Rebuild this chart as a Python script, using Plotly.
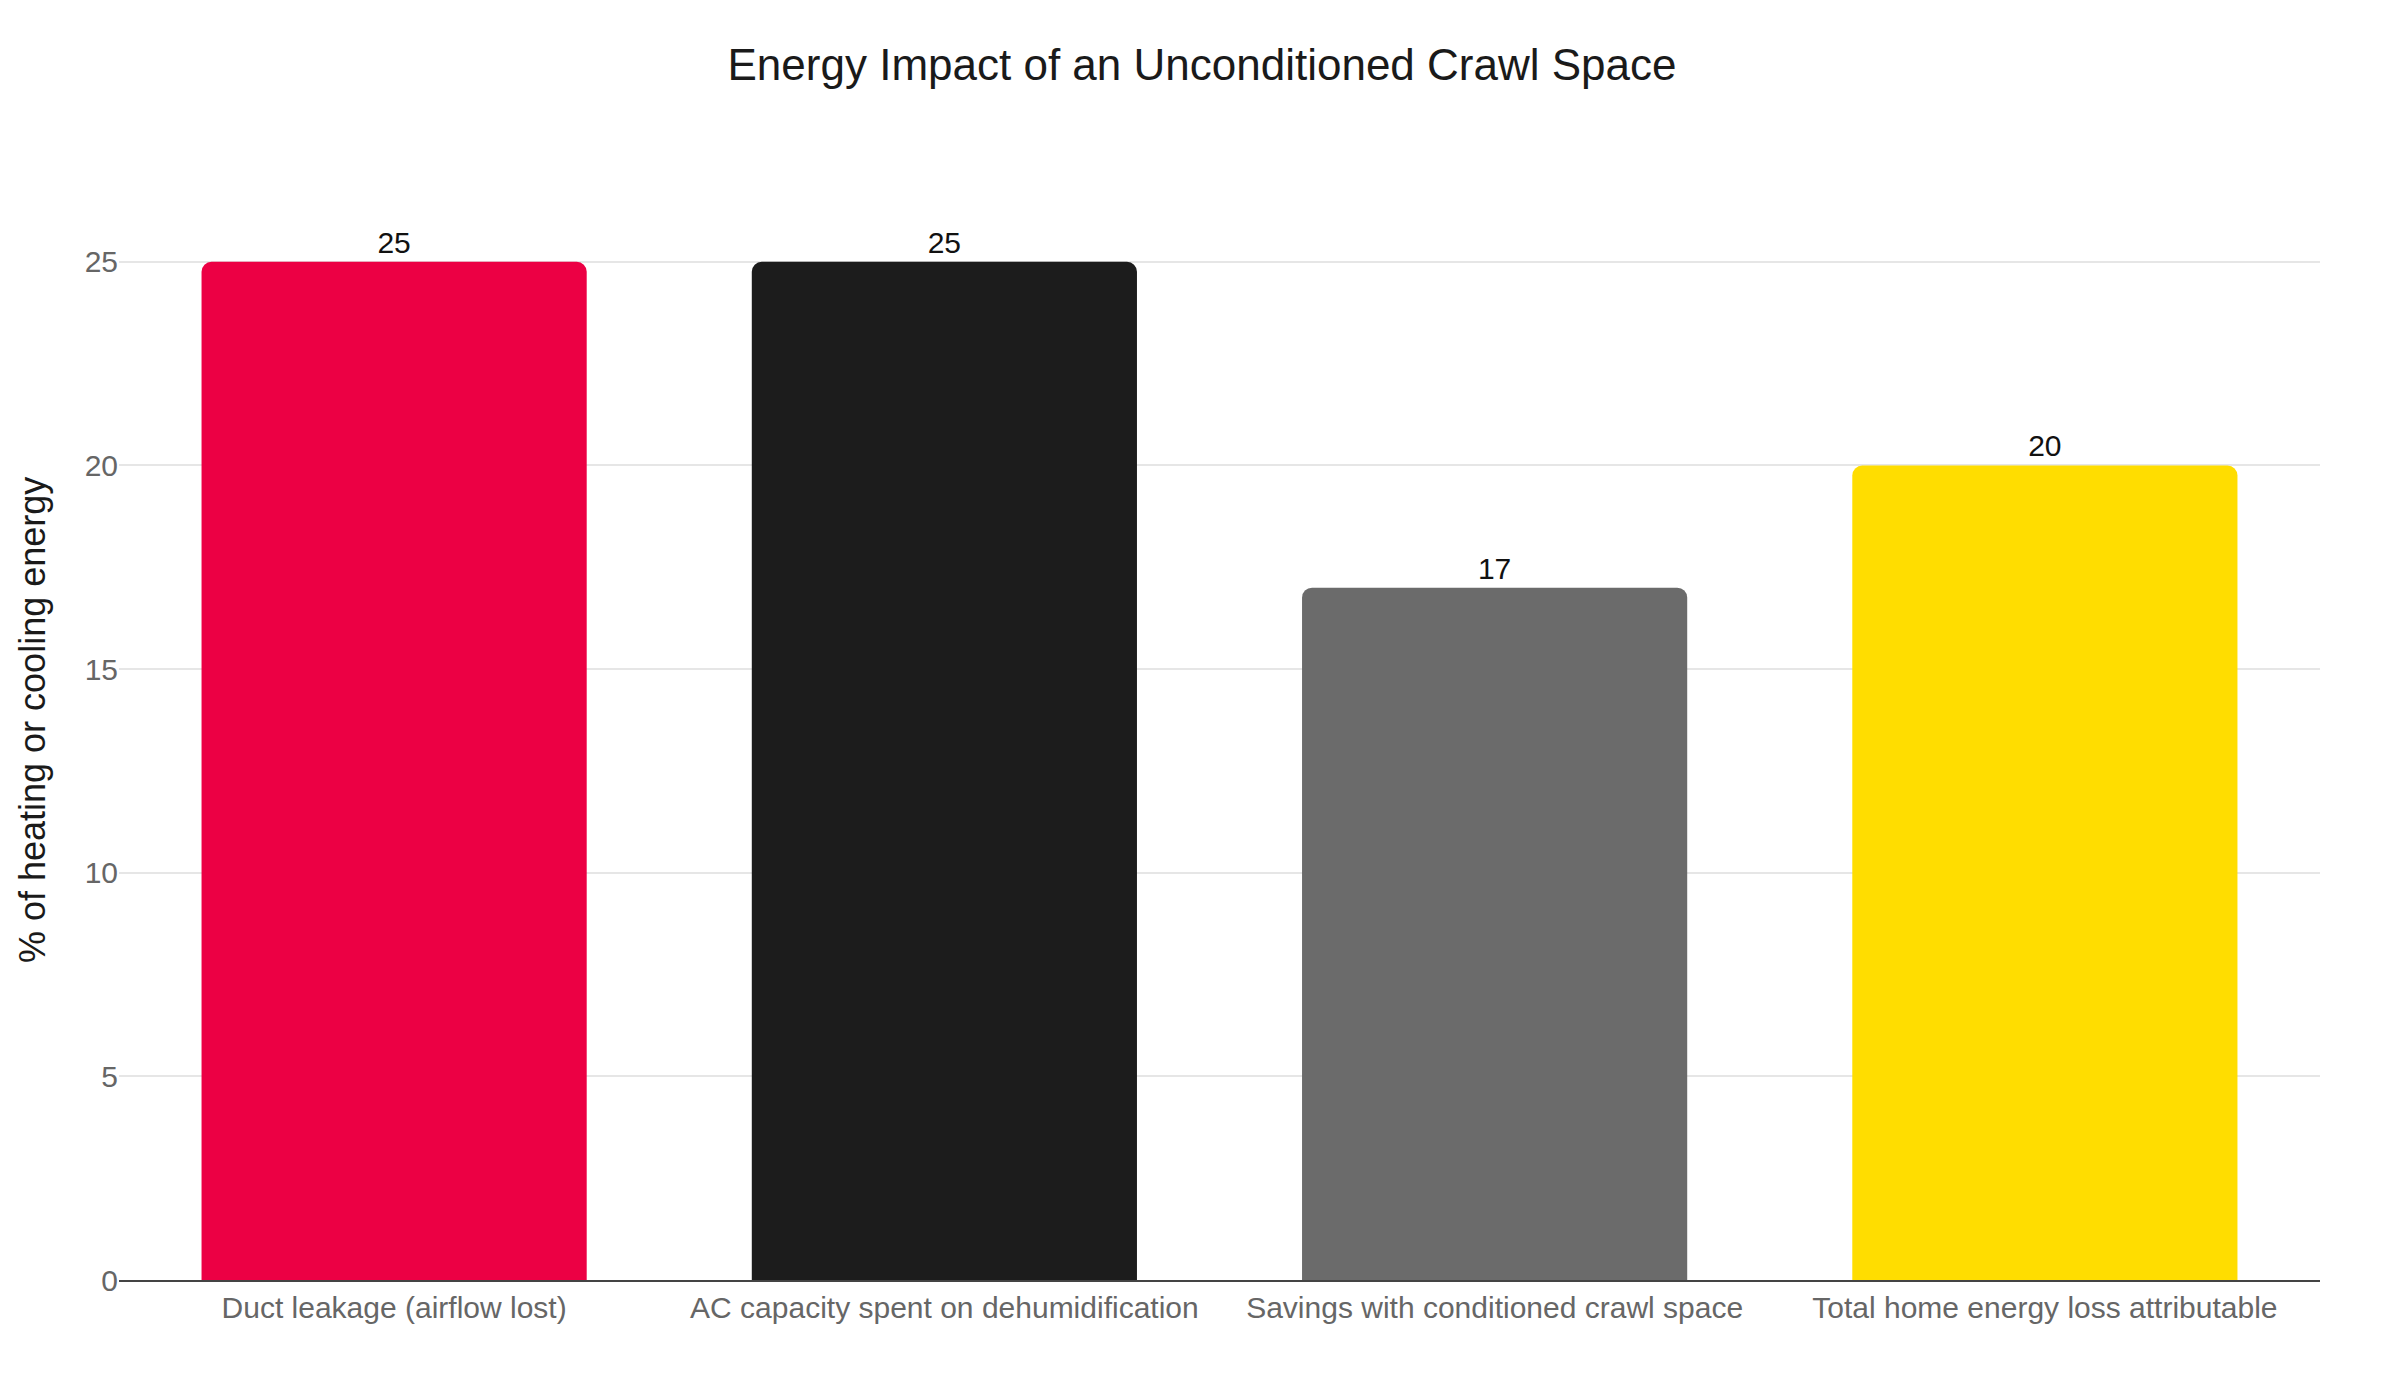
import plotly.graph_objects as go

categories = [
    "Duct leakage (airflow lost)",
    "AC capacity spent on dehumidification",
    "Savings with conditioned crawl space",
    "Total home energy loss attributable",
]
values = [25, 25, 17, 20]
colors = ["#EC0044", "#1C1C1C", "#6B6B6B", "#FFDD00"]
y_ticks = [0, 5, 10, 15, 20, 25]
y_title = "% of heating or cooling energy"

FONT = "Liberation Sans, Arial, Helvetica, sans-serif"

fig = go.Figure(
    go.Bar(
        x=categories,
        y=values,
        marker=dict(color=colors, line=dict(width=0)),
        text=[str(v) for v in values],
        textposition="outside",
        textfont=dict(size=30, color="#111111", family=FONT),
        cliponaxis=False,
        showlegend=False,
    )
)

fig.update_layout(
    width=2400,
    height=1400,
    paper_bgcolor="white",
    plot_bgcolor="white",
    font=dict(family=FONT),
    bargap=0.3,
    barcornerradius=10,
    margin=dict(l=111, r=88, t=152, b=128, autoexpand=False),
    title=dict(
        text="Energy Impact of an Unconditioned Crawl Space",
        x=0.4975,
        xanchor="center",
        y=1 - 57 / 1400,
        yanchor="middle",
        font=dict(size=44, color="#1a1a1a", family=FONT),
    ),
    xaxis=dict(
        showline=True,
        linecolor="#444444",
        linewidth=2,
        showgrid=False,
        ticks="",
        tickfont=dict(size=30, color="#666666", family=FONT),
    ),
    yaxis=dict(
        range=[0, 27.5],
        tickvals=y_ticks,
        showgrid=True,
        gridcolor="#e6e6e6",
        gridwidth=2,
        zeroline=False,
        showline=False,
        ticks="",
        tickfont=dict(size=30, color="#666666", family=FONT),
        automargin=False,
    ),
    annotations=[
        dict(
            text=y_title,
            xref="paper",
            yref="paper",
            x=-0.0395,
            y=0.5,
            xanchor="center",
            yanchor="middle",
            textangle=-90,
            showarrow=False,
            font=dict(size=36, color="#1a1a1a", family=FONT),
        )
    ],
)

fig.write_html("out.html")
